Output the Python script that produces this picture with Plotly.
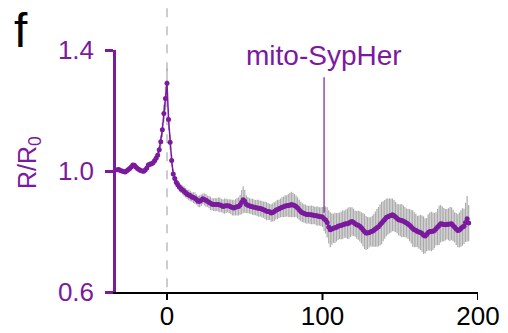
import plotly.graph_objects as go

# time (s), sampled every 1 s
time_s = list(range(-32, 195))

ratio = [
    # -32 .. -9
    1.004, 1.005, 1.002, 1.000, 0.998, 0.997, 1.000, 1.004, 1.008, 1.013, 1.020, 1.019,
    1.013, 1.008, 1.005, 1.002, 1.000, 0.999, 1.003, 1.010, 1.020, 1.022, 1.024, 1.027,
    # -8 .. 3
    1.034, 1.042, 1.052, 1.070, 1.097, 1.136, 1.190, 1.240, 1.290, 1.170, 1.095, 1.035,
    # 4 .. 30
    0.990, 0.975, 0.962, 0.954, 0.947, 0.941, 0.937, 0.933, 0.928, 0.923, 0.921, 0.918,
    0.914, 0.912, 0.910, 0.906, 0.900, 0.900, 0.903, 0.908, 0.906, 0.903, 0.900, 0.897,
    0.893, 0.890, 0.889,
    # 31 .. 100
    0.889, 0.889, 0.889, 0.888, 0.886, 0.883, 0.884, 0.885, 0.885, 0.884,
    0.882, 0.879, 0.878, 0.880, 0.882, 0.883, 0.888, 0.897, 0.905, 0.900,
    0.890, 0.887, 0.885, 0.883, 0.882, 0.880, 0.879, 0.878, 0.877, 0.876,
    0.874, 0.872, 0.870, 0.867, 0.866, 0.865, 0.861, 0.863, 0.866, 0.870,
    0.873, 0.875, 0.878, 0.880, 0.882, 0.884, 0.885, 0.886, 0.887, 0.889,
    0.888, 0.886, 0.883, 0.878, 0.872, 0.866, 0.862, 0.860, 0.858, 0.856,
    0.856, 0.855, 0.855, 0.854, 0.853, 0.852, 0.851, 0.850, 0.849, 0.848,
    # 101 .. 194
    0.842, 0.838, 0.830, 0.815, 0.806, 0.808, 0.811, 0.812, 0.814, 0.817,
    0.819, 0.820, 0.822, 0.824, 0.826, 0.826, 0.828, 0.831, 0.833, 0.830,
    0.826, 0.822, 0.821, 0.817, 0.812, 0.806, 0.800, 0.795, 0.795, 0.797,
    0.799, 0.801, 0.804, 0.808, 0.812, 0.816, 0.822, 0.828, 0.834, 0.840,
    0.846, 0.849, 0.851, 0.853, 0.855, 0.852, 0.848, 0.843, 0.839, 0.837,
    0.836, 0.834, 0.831, 0.828, 0.825, 0.821, 0.816, 0.810, 0.806, 0.804,
    0.800, 0.798, 0.797, 0.793, 0.788, 0.785, 0.790, 0.797, 0.800, 0.800,
    0.801, 0.803, 0.809, 0.815, 0.820, 0.826, 0.825, 0.823, 0.822, 0.824,
    0.824, 0.825, 0.826, 0.820, 0.814, 0.808, 0.803, 0.805, 0.810, 0.815,
    0.817, 0.830, 0.842, 0.828,
]

ratio_err = [
    # -32 .. -9
    0.005, 0.005, 0.006, 0.005, 0.006, 0.005, 0.006, 0.007, 0.006, 0.006, 0.007, 0.006,
    0.005, 0.006, 0.005, 0.006, 0.007, 0.008, 0.007, 0.008, 0.008, 0.009, 0.008, 0.010,
    # -8 .. 3
    0.010, 0.012, 0.013, 0.016, 0.020, 0.025, 0.030, 0.040, 0.050, 0.035, 0.025, 0.020,
    # 4 .. 30
    0.016, 0.015, 0.014, 0.015, 0.016, 0.014, 0.015, 0.017, 0.016, 0.015, 0.018, 0.017,
    0.016, 0.018, 0.019, 0.017, 0.018, 0.020, 0.019, 0.018, 0.020, 0.021, 0.019, 0.020,
    0.022, 0.020, 0.021,
    # 31 .. 100
    0.022, 0.021, 0.023, 0.024, 0.022, 0.023, 0.025, 0.024, 0.022, 0.023,
    0.024, 0.026, 0.025, 0.027, 0.029, 0.030, 0.033, 0.040, 0.045, 0.038,
    0.030, 0.027, 0.026, 0.025, 0.027, 0.026, 0.025, 0.027, 0.028, 0.026,
    0.028, 0.027, 0.029, 0.030, 0.028, 0.027, 0.029, 0.030, 0.031, 0.030,
    0.032, 0.030, 0.031, 0.033, 0.034, 0.036, 0.035, 0.038, 0.040, 0.042,
    0.040, 0.038, 0.036, 0.035, 0.033, 0.032, 0.031, 0.030, 0.031, 0.030,
    0.029, 0.030, 0.031, 0.030, 0.029, 0.031, 0.032, 0.030, 0.031, 0.033,
    # 101 .. 194
    0.040, 0.045, 0.050, 0.055, 0.058, 0.052, 0.048, 0.050, 0.047, 0.045,
    0.044, 0.046, 0.048, 0.045, 0.047, 0.050, 0.052, 0.049, 0.047, 0.045,
    0.043, 0.046, 0.048, 0.050, 0.052, 0.055, 0.058, 0.056, 0.053, 0.050,
    0.048, 0.051, 0.054, 0.058, 0.062, 0.065, 0.068, 0.070, 0.066, 0.064,
    0.062, 0.060, 0.058, 0.056, 0.054, 0.052, 0.050, 0.049, 0.051, 0.053,
    0.055, 0.052, 0.050, 0.048, 0.050, 0.053, 0.056, 0.060, 0.058, 0.055,
    0.052, 0.055, 0.058, 0.060, 0.062, 0.058, 0.055, 0.060, 0.063, 0.065,
    0.062, 0.058, 0.055, 0.060, 0.065, 0.062, 0.058, 0.055, 0.052, 0.050,
    0.053, 0.056, 0.054, 0.052, 0.050, 0.053, 0.055, 0.058, 0.060, 0.062,
    0.058, 0.065, 0.075, 0.060,
]

x_ticks = [0, 100, 200]
y_ticks = [0.6, 1.0, 1.4]
y_tick_text = ["0.6", "1.0", "1.4"]

label_text = "mito-SypHer"
label_time = 101
label_top = 1.31
label_bottom = 0.862

PURPLE = "#7B1A9E"
GREY = "#ABABAB"
FONT = "Liberation Sans, Arial, sans-serif"

W, H = 508, 333
ML, MR, MT, MB = 116, 30, 50, 41
X_TICKLEN = 8

assert len(ratio) == len(time_s) == len(ratio_err)

plot_w = W - ML - MR
plot_h = H - MT - MB

fig = go.Figure()

# error bars (drawn underneath)
fig.add_trace(go.Scatter(
    x=time_s, y=ratio, mode="markers",
    marker=dict(size=1, color="rgba(0,0,0,0)"),
    error_y=dict(type="data", array=ratio_err, color=GREY, thickness=1.2, width=0),
    hoverinfo="skip", showlegend=False,
))

# mean trace
fig.add_trace(go.Scatter(
    x=time_s, y=ratio, mode="lines+markers",
    line=dict(color=PURPLE, width=1.5),
    marker=dict(size=5, color=PURPLE),
    showlegend=False,
))

# stimulus onset dashed line
fig.add_shape(type="line", xref="x", yref="paper", x0=0, x1=0, y0=0.02, y1=1.21,
              line=dict(color="#BDBDBD", width=1.5, dash="dash"), layer="below")

# x tick marks (drawn as short outside lines so labels can sit close)
for tv in x_ticks:
    fig.add_shape(type="line", xref="x", yref="paper", x0=tv, x1=tv,
                  y0=0, y1=-X_TICKLEN / plot_h, line=dict(color="black", width=2))

# label pointer
fig.add_shape(type="line", xref="x", yref="y", x0=label_time, x1=label_time,
              y0=label_bottom, y1=label_top, line=dict(color=PURPLE, width=1.2))
fig.add_annotation(x=label_time, y=1.383, xref="x", yref="y", text=label_text,
                   showarrow=False, font=dict(family=FONT, size=28, color=PURPLE),
                   xanchor="center", yanchor="middle")


def px_to_paper(px, py_from_top):
    return (px - ML) / plot_w, (H - py_from_top - MB) / plot_h


# y label
ax_, ay_ = px_to_paper(29, 163)
fig.add_annotation(x=ax_, y=ay_, xref="paper", yref="paper", text="R/R<sub>0</sub>",
                   showarrow=False, textangle=-90,
                   font=dict(family=FONT, size=25, color=PURPLE),
                   xanchor="center", yanchor="middle")

# panel letter
fx_, fy_ = px_to_paper(21, 31)
fig.add_annotation(x=fx_, y=fy_, xref="paper", yref="paper", text="f",
                   showarrow=False, font=dict(family=FONT, size=48, color="black"),
                   xanchor="center", yanchor="middle")

fig.update_layout(
    width=W, height=H,
    margin=dict(l=ML, r=MR, t=MT, b=MB, autoexpand=False),
    paper_bgcolor="white", plot_bgcolor="white",
    font=dict(family=FONT),
    xaxis=dict(
        range=[-32.8, 200], tickvals=x_ticks, ticktext=[str(v) for v in x_ticks],
        showgrid=False, zeroline=False, automargin=False,
        showline=True, linecolor="black", linewidth=2,
        ticks="",
        tickfont=dict(family=FONT, size=26, color="black"),
    ),
    yaxis=dict(
        range=[0.6, 1.4], tickvals=y_ticks, ticktext=y_tick_text,
        showgrid=False, zeroline=False, automargin=False,
        showline=True, linecolor=PURPLE, linewidth=2.5,
        ticks="outside", ticklen=8, tickwidth=2.5, tickcolor=PURPLE,
        tickfont=dict(family=FONT, size=26, color=PURPLE),
        ticklabelstandoff=6,
    ),
)

fig.write_html(
    "out.html",
    config={"displayModeBar": False},
    post_script="document.body.style.margin='0px';document.body.style.overflow='hidden';",
)
